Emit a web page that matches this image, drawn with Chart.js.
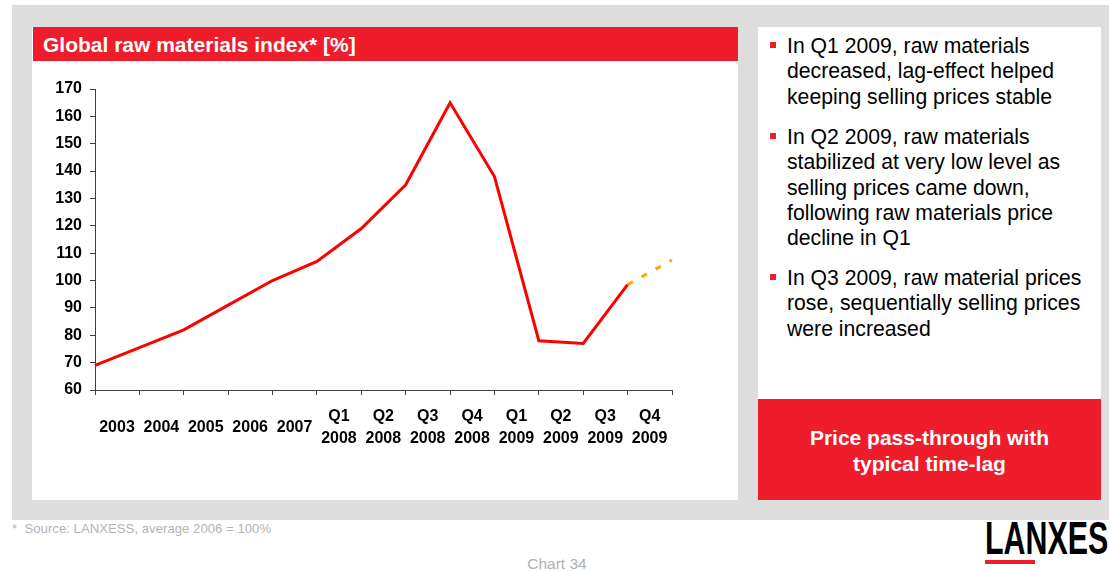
<!DOCTYPE html>
<html>
<head>
<meta charset="utf-8">
<script src="https://cdn.jsdelivr.net/npm/chart.js@4"></script>
<style>
  body { margin: 0; width: 1109px; height: 571px; background: #fff; position: relative; overflow: hidden;
         font-family: "Liberation Sans", Arial, sans-serif; }
  .band { position: absolute; left: 12px; top: 5px; width: 1097px; height: 515px; background: #dddddd; }
  .panel { position: absolute; background: #fff; }
  .head { position: absolute; left: 33px; top: 27px; width: 705px; height: 34px; background: #ef1c2c;
          color: #fff; font-weight: bold; font-size: 21px; line-height: 35px; padding-left: 10px; box-sizing: border-box; }
  .para { position: absolute; left: 787px; font-size: 21.2px; line-height: 25.3px; color: #000; }
  .sq { position: absolute; left: 770px; width: 6px; height: 6px; background: #ef1c2c; }
  .redbox { position: absolute; left: 758px; top: 399px; width: 343px; height: 101px; background: #ef1c2c;
            color: #fff; font-weight: bold; font-size: 21px; line-height: 26px; text-align: center;
            box-sizing: border-box; padding-top: 26px; }
  .foot { position: absolute; left: 12px; top: 521px; font-size: 13.2px; color: #b4b4b4; }
  .pg { position: absolute; left: 0; width: 1114px; top: 555px; text-align: center; font-size: 15.5px; color: #b0b0b0; }
  .logo { position: absolute; left: 985px; top: 511px; font-size: 46px; font-weight: bold; color: #000;
          transform: scaleX(0.66); transform-origin: left top; }
  .logobar { position: absolute; left: 985px; top: 560px; width: 50px; height: 4px; background: #ef1c2c; }
</style>
</head>
<body>
<div class="band"></div>
<div class="panel" style="left:32px;top:27px;width:706px;height:473px;"></div>
<div class="panel" style="left:758px;top:27px;width:343px;height:372px;"></div>
<div class="head">Global raw materials index* [%]</div>
<div style="position:absolute;left:32px;top:61px;width:706px;height:439px;">
  <canvas id="myChart" width="706" height="439"></canvas>
</div>

<div class="sq" style="top:42px;"></div>
<div class="para" style="top:33px;">In Q1 2009, raw materials<br>decreased, lag-effect helped<br>keeping selling prices stable</div>
<div class="sq" style="top:133px;"></div>
<div class="para" style="top:124px;">In Q2 2009, raw materials<br>stabilized at very low level as<br>selling prices came down,<br>following raw materials price<br>decline in Q1</div>
<div class="sq" style="top:274px;"></div>
<div class="para" style="top:265px;">In Q3 2009, raw material prices<br>rose, sequentially selling prices<br>were increased</div>

<div class="redbox">Price pass-through with<br>typical time-lag</div>
<div class="foot">*&nbsp;&nbsp;Source: LANXESS, average 2006 = 100%</div>
<div class="pg">Chart 34</div>
<div class="logo">LANXESS</div>
<div class="logobar"></div>

<script>
const categories = ["2003", "2004", "2005", "2006", "2007", "Q1 2008", "Q2 2008", "Q3 2008", "Q4 2008",
  "Q1 2009", "Q2 2009", "Q3 2009", "Q4 2009"];
const actualValues = [69, 75.5, 82, 91, 100, 107, 119, 135, 165, 138, 78, 77, 98.5];
const forecastValues = [98.5, 107.5];
const yTicks = { min: 60, max: 170, step: 10 };

const axisLabels = [];
for (let i = 0; i < categories.length; i++) {
  const parts = categories[i].split(" ");
  axisLabels.push(parts.length > 1 ? parts : parts[0]);
}
axisLabels.push("");

const actualData = actualValues.concat([null]);
const forecastData = [];
for (let i = 0; i < categories.length - 1; i++) {
  forecastData.push(null);
}
forecastData.push(forecastValues[0], forecastValues[1]);

const tickFont = { family: "'Liberation Sans', Arial, sans-serif", size: 16, weight: "bold", lineHeight: 1.33 };
const axisColor = "#404040";

const ctx = document.getElementById("myChart");
new Chart(ctx, {
  type: "line",
  data: {
    labels: axisLabels,
    datasets: [
      {
        label: "Index",
        data: actualData,
        borderColor: "#ff0000",
        borderWidth: 3,
        pointRadius: 0,
        tension: 0,
      },
      {
        label: "Forecast",
        data: forecastData,
        borderColor: "#ffa500",
        borderWidth: 3,
        borderDash: [6, 10],
        pointRadius: 0,
        tension: 0,
      },
    ],
  },
  options: {
    responsive: false,
    animation: false,
    devicePixelRatio: 1,
    layout: { padding: { left: 13, top: 28, right: 66, bottom: 30 } },
    plugins: { legend: { display: false }, tooltip: { enabled: false } },
    scales: {
      x: {
        offset: false,
        grid: { offset: false, drawOnChartArea: false, drawTicks: true, tickLength: 5, color: axisColor },
        border: { display: true, color: axisColor },
        ticks: {
          autoSkip: false,
          maxRotation: 0,
          labelOffset: 22,
          padding: 22,
          crossAlign: "center",
          color: "#000",
          font: tickFont,
        },
        afterFit: (scale) => { scale.height = 80; },
      },
      y: {
        min: yTicks.min,
        max: yTicks.max,
        grid: { drawOnChartArea: false, drawTicks: true, tickLength: 5, color: axisColor },
        border: { display: true, color: axisColor },
        ticks: { stepSize: yTicks.step, padding: 8, color: "#000", font: tickFont },
        afterFit: (scale) => { scale.width = 50; },
      },
    },
  },
});
</script>
</body>
</html>
